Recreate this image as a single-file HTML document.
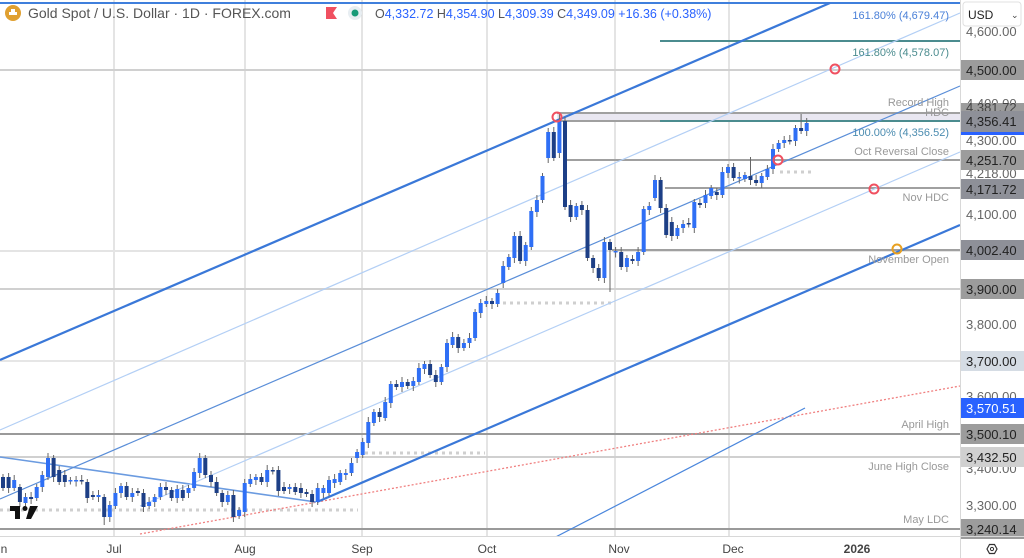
<!DOCTYPE html>
<html><head><meta charset="utf-8"><style>
html,body{margin:0;padding:0;background:#fff;width:1024px;height:558px;overflow:hidden;font-family:"Liberation Sans",sans-serif}
svg{display:block}
</style></head><body>
<svg id="s" width="1024" height="558" viewBox="0 0 1024 558" xmlns="http://www.w3.org/2000/svg" font-family="Liberation Sans, sans-serif">
<rect width="1024" height="558" fill="#fff"/>
<g stroke="#c8c8c8" stroke-width="1">
<line x1="114" y1="0" x2="114" y2="536"/><line x1="245" y1="0" x2="245" y2="536"/><line x1="362" y1="0" x2="362" y2="536"/><line x1="487" y1="0" x2="487" y2="536"/><line x1="615" y1="0" x2="615" y2="536"/><line x1="729" y1="0" x2="729" y2="536"/>
</g>
<rect x="557" y="113" width="403" height="8" fill="#e9e7f1"/>
<g stroke-width="2">
<line x1="0" y1="70" x2="960" y2="70" stroke="#d0d0d0"/>
<line x1="0" y1="251" x2="960" y2="251" stroke="#e4e4e4"/>
<line x1="0" y1="289" x2="960" y2="289" stroke="#d0d0d0"/>
<line x1="0" y1="361" x2="960" y2="361" stroke="#e6e6e6"/>
<line x1="0" y1="434" x2="960" y2="434" stroke="#9a9a9a"/>
<line x1="0" y1="457" x2="960" y2="457" stroke="#d0d0d0"/>
<line x1="0" y1="529" x2="960" y2="529" stroke="#9a9a9a"/>
<line x1="557" y1="113" x2="960" y2="113" stroke="#a0a0a0"/>
<line x1="557" y1="121" x2="960" y2="121" stroke="#a0a0a0"/>
<line x1="565" y1="160" x2="960" y2="160" stroke="#a0a0a0"/>
<line x1="665" y1="188" x2="960" y2="188" stroke="#a0a0a0"/>
<line x1="612" y1="250" x2="960" y2="250" stroke="#a0a0a0"/>
<line x1="660" y1="41" x2="960" y2="41" stroke="#4b8c8f"/>
<line x1="660" y1="121" x2="960" y2="121" stroke="#4b8c8f"/>
</g>
<line x1="0" y1="3" x2="960" y2="3" stroke="#3f7fdc" stroke-width="2"/>
<g stroke="#cfcfcf" stroke-width="3" stroke-dasharray="3,4">
<line x1="0" y1="510" x2="358" y2="510"/><line x1="365" y1="453" x2="485" y2="453"/>
<line x1="503" y1="303" x2="612" y2="303"/><line x1="780" y1="172" x2="812" y2="172"/>
</g>
<line x1="140" y1="534" x2="960" y2="386" stroke="#f08080" stroke-width="1.3" stroke-dasharray="2,2"/>
<line x1="0" y1="360" x2="830" y2="3" stroke="#3a78d8" stroke-width="2.2"/>
<line x1="317" y1="502" x2="960" y2="225" stroke="#3a78d8" stroke-width="2.2"/>
<line x1="0" y1="457" x2="316" y2="502" stroke="#6b9be0" stroke-width="1.6"/>
<line x1="0" y1="499" x2="960" y2="86" stroke="#5a8ed8" stroke-width="1.2"/>
<line x1="0" y1="430" x2="960" y2="13" stroke="#b3cff5" stroke-width="1.2"/>
<line x1="140" y1="506" x2="960" y2="152" stroke="#b3cff5" stroke-width="1.2"/>
<line x1="515" y1="558" x2="805" y2="408" stroke="#4a86dc" stroke-width="1.2"/>
<g id="candles"></g>
<g fill="none" stroke-width="2">
<circle cx="557" cy="117" r="4.5" stroke="#f05060"/><circle cx="778" cy="160" r="4.5" stroke="#f05060"/>
<circle cx="835" cy="69" r="4.5" stroke="#f05060"/><circle cx="874" cy="189" r="4.5" stroke="#f05060"/>
<circle cx="897" cy="249" r="4.5" stroke="#e8a020"/>
</g>
<g font-size="11" text-anchor="end" fill="#999">
<text x="949" y="106">Record High</text><text x="949" y="116">HDC</text>
<text x="949" y="155">Oct Reversal Close</text><text x="949" y="201">Nov HDC</text>
<text x="949" y="263">November Open</text><text x="949" y="428">April High</text>
<text x="949" y="470">June High Close</text><text x="949" y="523">May LDC</text>
<text x="949" y="19" fill="#4a80d8">161.80% (4,679.47)</text>
<text x="949" y="56" fill="#4b8c8f">161.80% (4,578.07)</text>
<text x="949" y="136" fill="#4b8cb0">100.00% (4,356.52)</text>
</g>
<g fill="#111"><rect x="10" y="506" width="10" height="5"/><rect x="15" y="506" width="5" height="13"/><circle cx="25" cy="508.5" r="2.5"/><polygon points="30,506 38,506 31,519 26,519"/></g>
<circle cx="13" cy="13" r="8" fill="#e0a030"/><rect x="9" y="12" width="8" height="3" fill="#fff"/><rect x="11" y="9" width="4" height="3" fill="#fff"/>
<text x="28" y="18" font-size="14" fill="#555">Gold Spot / U.S. Dollar · 1D · FOREX.com</text>
<polygon points="326,7 337,7 333,13 337,19 326,19" fill="#f05060"/>
<circle cx="355" cy="13" r="7" fill="#e8eef2"/><circle cx="355" cy="13" r="3.5" fill="#189a78"/>
<text x="375" y="18" font-size="12.5" fill="#2962ff"><tspan fill="#555">O</tspan>4,332.72 <tspan fill="#555">H</tspan>4,354.90 <tspan fill="#555">L</tspan>4,309.39 <tspan fill="#555">C</tspan>4,349.09 +16.36 (+0.38%)</text>
<rect x="960" y="0" width="64" height="558" fill="#fff"/>
<line x1="960.5" y1="0" x2="960.5" y2="558" stroke="#d8d8d8"/>
<rect x="963" y="2" width="58" height="24" rx="3" fill="#fff" stroke="#e0e0e0"/>
<text x="968" y="19" font-size="12" fill="#222">USD</text><text x="1011" y="18" font-size="9" fill="#444">⌄</text>
<g font-size="13" fill="#666">
<text x="966" y="36">4,600.00</text><text x="966" y="108">4,400.00</text><text x="966" y="145">4,300.00</text>
<text x="966" y="219">4,100.00</text><text x="966" y="329">3,800.00</text><text x="966" y="401">3,600.00</text>
<text x="966" y="473">3,400.00</text><text x="966" y="510">3,300.00</text><text x="966" y="178">4,218.00</text>
</g>
<g font-size="13" fill="#222">
<rect x="961" y="60" width="63" height="20" fill="#9c9c9c"/><text x="966" y="75">4,500.00</text>
<rect x="961" y="103" width="63" height="9" fill="#9c9c9c"/><text x="966" y="112" fill="#444">4,381.72</text>
<rect x="961" y="111" width="63" height="21" fill="#8e9098"/><text x="966" y="126">4,356.41</text>
<rect x="961" y="132" width="63" height="3" fill="#2962ff"/>
<rect x="961" y="150" width="63" height="20" fill="#9c9c9c"/><text x="966" y="165">4,251.70</text>
<rect x="961" y="179" width="63" height="20" fill="#8e9098"/><text x="966" y="194">4,171.72</text>
<rect x="961" y="240" width="63" height="20" fill="#8e9098"/><text x="966" y="255">4,002.40</text>
<rect x="961" y="279" width="63" height="20" fill="#9c9c9c"/><text x="966" y="294">3,900.00</text>
<rect x="961" y="351" width="63" height="20" fill="#d5dce4"/><text x="966" y="366">3,700.00</text>
<rect x="961" y="398" width="63" height="20" fill="#2962ff"/><text x="966" y="413" fill="#fff">3,570.51</text>
<rect x="961" y="424" width="63" height="20" fill="#9c9c9c"/><text x="966" y="439">3,500.10</text>
<rect x="961" y="447" width="63" height="20" fill="#d0d0d0"/><text x="966" y="462">3,432.50</text>
<rect x="961" y="519" width="63" height="20" fill="#9c9c9c"/><text x="966" y="534">3,240.14</text>
</g>
<rect x="0" y="537" width="960" height="21" fill="#fff"/>
<line x1="0" y1="536.5" x2="1024" y2="536.5" stroke="#d8d8d8"/>
<g font-size="12" fill="#444" text-anchor="middle">
<text x="4" y="553">n</text><text x="114" y="553">Jul</text><text x="245" y="553">Aug</text><text x="362" y="553">Sep</text>
<text x="487" y="553">Oct</text><text x="619" y="553">Nov</text><text x="733" y="553">Dec</text>
<text x="857" y="553" font-weight="bold">2026</text>
</g>
<polygon points="987,549 989.5,544.5 994.5,544.5 997,549 994.5,553.5 989.5,553.5" fill="none" stroke="#333" stroke-width="1.2"/><circle cx="992" cy="549" r="1.6" fill="none" stroke="#333"/>
</svg>
<script>
var d=[[477,488,0],[477,488,0],[480,488,1],[487,502,0],[497,503,1],[497,499,0],[487,498,1],[475,487,1],[458,477,1],[458,477,0],
[470,482,0],[475,482,0],[480,481,1],[480,481,1],[480,481,0],[482,498,0],[495,497,0],[495,497,1],[497,517,0],[505,517,1],
[493,506,1],[486,493,1],[486,497,0],[493,497,1],[491,493,0],[493,507,0],[502,506,1],[497,502,1],[487,497,1],[487,490,0],
[490,498,0],[489,498,1],[490,498,0],[488,493,1],[472,488,1],[458,473,1],[458,475,0],[475,482,0],[482,493,0],[493,502,0],
[495,502,1],[495,517,0],[510,516,1],[483,512,1],[479,484,1],[477,480,1],[477,482,0],[470,482,1],[470,471,0],[470,491,0],
[487,491,0],[487,489,1],[487,492,0],[488,493,0],[492,494,0],[494,502,0],[488,502,1],[488,493,1],[480,493,1],[479,483,1],
[473,482,1],[473,475,1],[463,473,1],
[452,458,1],[442,455,1],[422,443,1],[412,423,1],[412,417,0],[402,418,1],[384,403,1],[384,387,0],[382,387,1],[382,386,0],[381,386,1],[368,382,1],[364,369,1],[364,375,0],[375,382,0],[367,382,1],[343,367,1],[337,345,1],[337,348,0],[343,348,1],[338,343,1],[312,338,1],[303,313,1],[301,304,1],[301,304,0],[293,304,1],
[266,283,1],[257,267,1],[236,258,1],[236,261,0],[245,261,1],[211,247,1],[200,212,1],[176,200,1],[132,158,1],[132,158,0],
[121,153,1],[121,207,0],[205,217,0],[206,217,1],[205,210,0],[210,258,0],[258,268,0],[268,278,0],[242,278,1],[242,250,0],
[251,252,1],[252,267,0],[258,267,1],[259,261,0],[252,261,1],[209,252,1],[206,210,1],[180,198,1],[180,208,0],[208,235,0],
[222,236,0],[228,236,1],[224,228,1],[223,224,0],[202,228,1],[203,205,0],[195,203,1],[188,196,1],[192,195,0],[172,195,1],
[167,173,1],[167,178,0],[177,178,1],[175,179,1],[176,180,0],[180,183,0],[176,183,1],[169,177,1],[149,169,1],[143,149,1],
[140,143,1],[140,141,0],[128,141,1],[128,131,0],[123,131,1]];
var ov={99:[113,null],108:[null,292],18:[null,525],41:[null,522],142:[114,null],133:[157,null]};
var g=document.getElementById('candles'),h='';
var step=(806.7-3)/(d.length-1);
for(var i=0;i<d.length;i++){var c=d[i],x=3+i*step,t=c[0],b=c[1];if(b-t<1.5){b=t+1.5;}
var ht=t-3-(i%3),lb=b+3+(i%2)*2;if(ov[i]){if(ov[i][0]!=null)ht=ov[i][0];if(ov[i][1]!=null)lb=ov[i][1];}
h+='<line x1="'+x.toFixed(1)+'" y1="'+ht+'" x2="'+x.toFixed(1)+'" y2="'+lb+'" stroke="#666" stroke-width="1"/>';
h+='<rect x="'+(x-2).toFixed(1)+'" y="'+t+'" width="4" height="'+(b-t)+'" fill="'+(c[2]?'#2f6ff5':'#1d3f86')+'"/>';}
g.innerHTML=h;
</script>
</body></html>
